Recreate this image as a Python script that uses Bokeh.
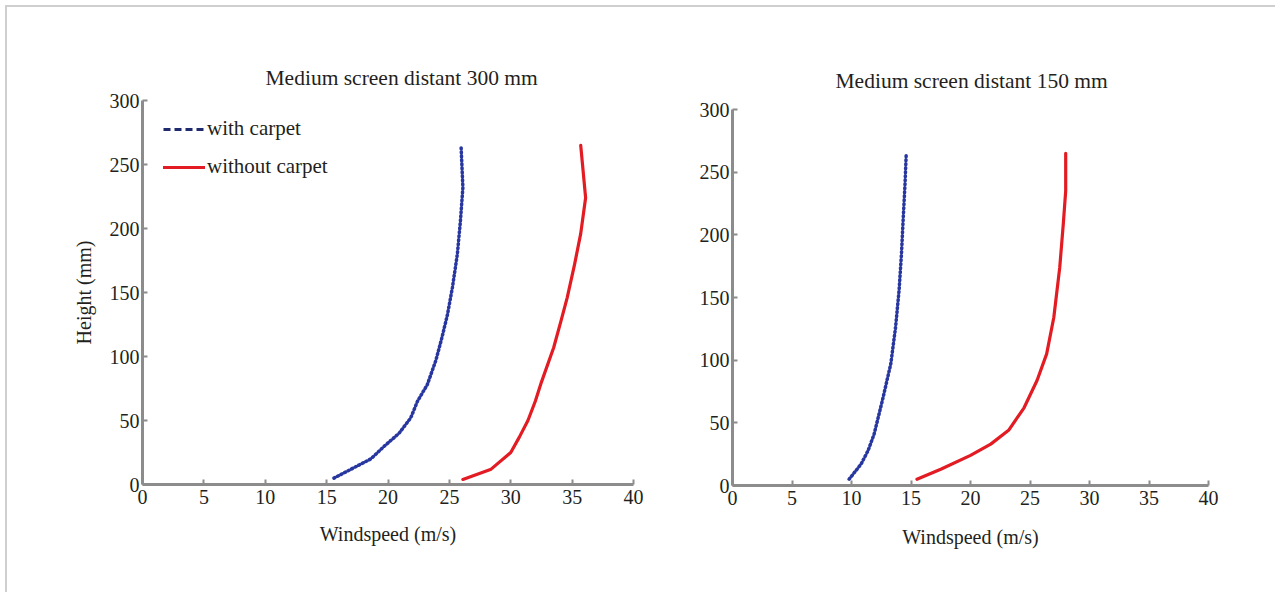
from bokeh.plotting import figure
from bokeh.layouts import row, column
from bokeh.models import Range1d, SingleIntervalTicker, Legend, LegendItem
from bokeh.embed import file_html
from bokeh.resources import INLINE

# ---- data ----
titles = ["Medium screen distant 300 mm", "Medium screen distant 150 mm"]
series_names = ["with carpet", "without carpet"]

# left panel (300 mm)
l_with_speed = [15.6, 17.2, 18.6, 19.7, 20.9, 21.85, 22.4, 23.2, 23.9, 24.4, 24.85, 25.25, 25.65, 25.9, 26.1, 25.95]
l_with_height = [5, 13, 20, 30, 40, 52, 65, 78, 97, 115, 133, 154, 180, 206, 232, 265]
l_without_speed = [26.1, 28.4, 30.0, 30.7, 31.4, 32.0, 32.5, 33.5, 34.1, 34.6, 35.2, 35.7, 36.1, 35.7]
l_without_height = [4, 12, 25, 37, 50, 65, 80, 107, 128, 146, 172, 196, 224, 265]

# right panel (150 mm)
r_with_speed = [9.8, 10.8, 11.4, 11.9, 12.6, 13.3, 13.7, 14.0, 14.2, 14.35, 14.5, 14.6]
r_with_height = [5, 17, 28, 41, 68, 97, 126, 156, 185, 214, 241, 265]
r_without_speed = [15.5, 17.5, 20.0, 21.7, 23.2, 24.5, 25.6, 26.4, 27.0, 27.5, 27.8, 28.0, 28.0]
r_without_height = [5, 13, 24, 33, 44, 62, 84, 105, 134, 174, 209, 235, 265]

FONT = "Liberation Serif"
TXT = "#231f20"
AX = "#8c8c8c"
BLUE = "#27379f"
NAVY = "#1f2b6e"
RED = "#e31b23"


def make_fig(title, width, height, bl, br, bt, bb, title_offset, title_standoff, xl_standoff, ylabel):
    p = figure(width=width, height=height, output_backend="svg", toolbar_location=None,
               x_range=Range1d(0, 40), y_range=Range1d(0, 300),
               min_border_left=bl, min_border_right=br, min_border_top=bt, min_border_bottom=bb)
    p.title.text = title
    p.title.text_font = FONT
    p.title.text_font_size = "21.5px"
    p.title.text_font_style = "normal"
    p.title.text_color = TXT
    p.title.align = "left"
    p.title.offset = title_offset
    p.title.standoff = title_standoff
    p.outline_line_color = None
    p.xgrid.visible = False
    p.ygrid.visible = False
    p.xaxis.ticker = SingleIntervalTicker(interval=5, num_minor_ticks=0)
    p.yaxis.ticker = SingleIntervalTicker(interval=50, num_minor_ticks=0)
    for ax in (p.xaxis[0], p.yaxis[0]):
        ax.axis_line_color = AX
        ax.axis_line_width = 3
        ax.major_tick_line_color = AX
        ax.major_tick_line_width = 2
        ax.major_tick_in = 5
        ax.major_tick_out = 0
        ax.minor_tick_line_color = None
        ax.major_label_text_font = FONT
        ax.major_label_text_font_size = "20px"
        ax.major_label_text_color = TXT
        ax.axis_label_text_font = FONT
        ax.axis_label_text_font_size = "20px"
        ax.axis_label_text_font_style = "normal"
        ax.axis_label_text_color = TXT
    p.xaxis.major_label_standoff = 5
    p.yaxis.major_label_standoff = 3
    p.xaxis.axis_label = "Windspeed (m/s)"
    p.xaxis.axis_label_standoff = xl_standoff
    if ylabel:
        p.yaxis.axis_label = "Height (mm)"
        p.yaxis.axis_label_standoff = 12
    return p


p1 = make_fig(titles[0], 640, 585, 135, 14, 93, 108, 123, 22, 16, True)
p2 = make_fig(titles[1], 628, 585, 85, 67, 102, 107, 103, 34, 18, False)

legend_items = []
for p, ws, wh, ns, nh in ((p1, l_with_speed, l_with_height, l_without_speed, l_without_height),
                          (p2, r_with_speed, r_with_height, r_without_speed, r_without_height)):
    p.line(ws, wh, line_color=BLUE, line_width=3.5, line_dash="1 3", line_cap="round")
    r2 = p.line(ns, nh, line_color=RED, line_width=3.2, line_cap="round", line_join="round")
    if p is p1:
        # legend-only swatch for the dashed series (drawn as dashes in the key, no data)
        key1 = p.line(x=[float("nan")], y=[float("nan")], line_color=NAVY, line_width=3, line_dash="7 4")
        legend_items = [LegendItem(label=series_names[0], renderers=[key1]),
                        LegendItem(label=series_names[1], renderers=[r2])]

leg = Legend(items=legend_items, location=(21, 305))
leg.background_fill_alpha = 0
leg.border_line_color = None
leg.label_text_font = FONT
leg.label_text_font_size = "21px"
leg.label_text_color = TXT
leg.glyph_width = 42
leg.glyph_height = 24
leg.label_height = 24
leg.label_standoff = 2
leg.spacing = 13
leg.margin = 0
leg.padding = 8
p1.add_layout(leg)

layout = row(column(p1), column(p2))
layout.styles = {"border-top": "2px solid #cfcfcf", "border-left": "2px solid #cfcfcf",
                 "margin-left": "5px", "margin-top": "5px"}

open("out.html", "w").write(file_html(layout, INLINE))
